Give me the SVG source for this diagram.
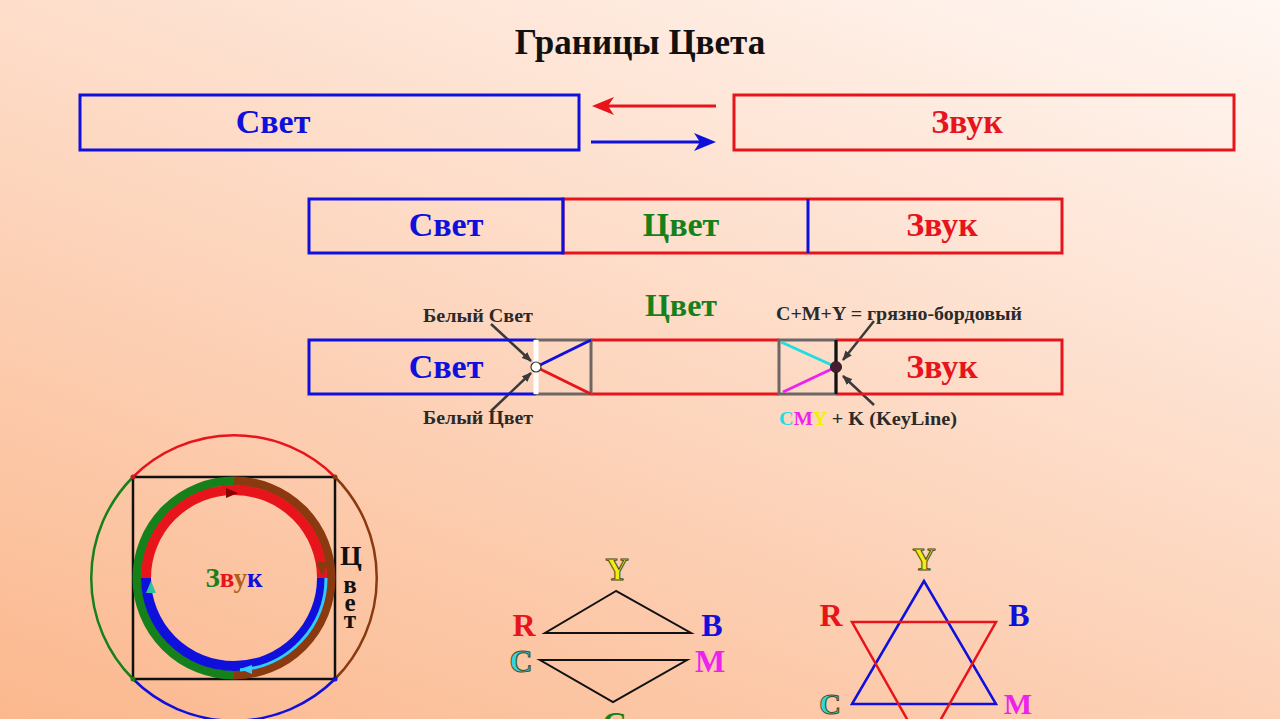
<svg xmlns="http://www.w3.org/2000/svg" width="1280" height="719" viewBox="0 0 1280 719">
<defs>
<linearGradient id="bg" gradientUnits="userSpaceOnUse" x1="1280" y1="0" x2="886" y2="1051">
<stop offset="0" stop-color="#fff7f3"/>
<stop offset="1" stop-color="#fbb88e"/>
</linearGradient>
<marker id="ar" markerWidth="10" markerHeight="8" refX="9" refY="4" orient="auto" markerUnits="userSpaceOnUse"><path d="M0,0 L10,4 L0,8 Z" fill="#3a3a3a"/></marker>
</defs>
<style>
text{font-family:"Liberation Serif","Times New Roman",serif;font-weight:bold;text-anchor:middle}
.big{font-size:34px}
.lbl{font-size:19px;fill:#2a2a2a}
.blue{fill:#1010dc}
.red{fill:#e8141c}
.green{fill:#16801a}
.bs{stroke:#1010dc}
.rs{stroke:#e8141c}
.box{fill:none;stroke-width:3}
.let{font-size:32px}
.out{stroke:#4a4a20;stroke-width:1}
.tri{fill:none;stroke:#111;stroke-width:2}
</style>
<rect width="1280" height="719" fill="url(#bg)"/>
<text x="640" y="54" style="font-size:35px" fill="#111">Границы Цвета</text>

<g id="row1-svet">
<rect x="80" y="95" width="499" height="55" class="box bs"/>
<text x="273" y="133" class="big blue">Свет</text>
</g>
<g id="row1-zvuk">
<rect x="734" y="95" width="500" height="55" class="box rs"/>
<text x="967" y="133" class="big red">Звук</text>
</g>
<g id="connectors">
<line x1="716" y1="106" x2="606" y2="106" stroke="#e8141c" stroke-width="3"/>
<path d="M592,106 L614,97 L608,106 L614,115 Z" fill="#e8141c"/>
<line x1="591" y1="142" x2="702" y2="142" stroke="#1010dc" stroke-width="3"/>
<path d="M716,142 L694,133 L700,142 L694,151 Z" fill="#1010dc"/>
<line x1="491" y1="324" x2="531" y2="361" stroke="#3a3a3a" stroke-width="2.5" marker-end="url(#ar)"/>
<line x1="491" y1="411" x2="531" y2="373" stroke="#3a3a3a" stroke-width="2.5" marker-end="url(#ar)"/>
<line x1="874" y1="321" x2="843" y2="360" stroke="#3a3a3a" stroke-width="2.5" marker-end="url(#ar)"/>
<line x1="874" y1="405" x2="843" y2="376" stroke="#3a3a3a" stroke-width="2.5" marker-end="url(#ar)"/>
</g>

<g id="row2">
<rect x="563" y="199" width="499" height="54" class="box rs"/>
<rect x="309" y="199" width="254" height="54" class="box bs"/>
<line x1="808" y1="199" x2="808" y2="253" stroke="#1010dc" stroke-width="3"/>
<text x="446" y="236" class="big blue">Свет</text>
<text x="681" y="236" class="big green">Цвет</text>
<text x="942" y="236" class="big red">Звук</text>
</g>

<g id="row3">
<text x="681" y="316" class="big green" style="font-size:32px">Цвет</text>
<path d="M536,340 H309 V394 H536" class="box bs"/>
<line x1="591" y1="340" x2="779" y2="340" stroke="#e8141c" stroke-width="3"/>
<line x1="591" y1="394" x2="779" y2="394" stroke="#e8141c" stroke-width="3"/>
<path d="M836,340 H1062 V394 H836" class="box rs"/>
<rect x="536" y="340" width="55" height="54" fill="none" stroke="#6e6666" stroke-width="3"/>
<rect x="779" y="340" width="57" height="54" fill="none" stroke="#6e6666" stroke-width="3"/>
<line x1="536" y1="340" x2="536" y2="394" stroke="#ffffff" stroke-width="5"/>
<line x1="536" y1="367" x2="591" y2="340" stroke="#1010dc" stroke-width="3"/>
<line x1="536" y1="367" x2="591" y2="394" stroke="#e8141c" stroke-width="3"/>
<circle cx="536" cy="367" r="5" fill="#ffffff" stroke="#333" stroke-width="1.2"/>
<line x1="781" y1="342" x2="836" y2="367" stroke="#22dde0" stroke-width="3"/>
<line x1="783" y1="392" x2="836" y2="367" stroke="#ee22ee" stroke-width="3"/>
<line x1="836" y1="340" x2="836" y2="394" stroke="#111" stroke-width="3"/>
<circle cx="836" cy="367" r="5.5" fill="#4a1c30" stroke="#222" stroke-width="1"/>
<text x="446" y="378" class="big blue">Свет</text>
<text x="942" y="378" class="big red">Звук</text>
<text x="478" y="322" class="lbl" textLength="110" lengthAdjust="spacingAndGlyphs">Белый Свет</text>
<text x="478" y="424" class="lbl" textLength="110" lengthAdjust="spacingAndGlyphs">Белый Цвет</text>
<text x="899" y="320" class="lbl" textLength="246" lengthAdjust="spacingAndGlyphs">C+M+Y = грязно-бордовый</text>
<text x="868" y="425" class="lbl" textLength="178" lengthAdjust="spacingAndGlyphs"><tspan fill="#22dde0">C</tspan><tspan fill="#ee22ee">M</tspan><tspan fill="#f0f000">Y</tspan> + K (KeyLine)</text>
</g>

<g id="circle-diagram">
<path d="M133,477 A143,143 0 0 1 335,477" fill="none" stroke="#e8141c" stroke-width="2.5"/>
<path d="M335,477 A143,143 0 0 1 335,679" fill="none" stroke="#8b3a10" stroke-width="2.5"/>
<path d="M335,679 A143,143 0 0 1 133,679" fill="none" stroke="#1010dc" stroke-width="2.5"/>
<path d="M133,679 A143,143 0 0 1 133,477" fill="none" stroke="#16801a" stroke-width="2.5"/>
<rect x="133" y="477" width="202" height="202" fill="none" stroke="#111" stroke-width="2.5"/>
<circle cx="133" cy="477" r="2.5" fill="#c02020"/>
<circle cx="335" cy="477" r="2.5" fill="#8b3a10"/>
<circle cx="335" cy="679" r="2.5" fill="#1010dc"/>
<circle cx="133" cy="679" r="2.5" fill="#16801a"/>
<path d="M234,481 A97,97 0 0 0 234,675" fill="none" stroke="#16801a" stroke-width="9"/>
<path d="M234,481 A97,97 0 0 1 234,675" fill="none" stroke="#8b3a10" stroke-width="9"/>
<path d="M146,578 A88,88 0 0 1 322,578" fill="none" stroke="#e8141c" stroke-width="10"/>
<path d="M146,578 A88,88 0 0 0 322,578" fill="none" stroke="#1010dc" stroke-width="10"/>
<path d="M326,578 A92,92 0 0 1 240,670" fill="none" stroke="#33ccff" stroke-width="3"/>
<path d="M226,488 L238,493 L226,498 Z" fill="#8b0000"/>
<path d="M316,562 L322,576 L328,562 Z" fill="#8b3a10"/>
<path d="M252,665 L240,669 L252,674 Z" fill="#33ccff"/>
<path d="M146,593 L151,581 L156,593 Z" fill="#33c0a0"/>
<text x="234" y="587" style="font-size:27px"><tspan fill="#16801a">З</tspan><tspan fill="#e8141c">в</tspan><tspan fill="#b0601a">у</tspan><tspan fill="#1010dc">к</tspan></text>
<text style="font-size:25px" fill="#111"><tspan x="351" y="565" style="font-size:28px">Ц</tspan><tspan x="350" y="593">в</tspan><tspan x="350" y="611">е</tspan><tspan x="350" y="628">т</tspan></text>
</g>

<g id="triangles">
<polygon points="616,591 545,633 691,633" class="tri"/>
<polygon points="540,660 687,660 613,702" class="tri"/>
<text x="617" y="580" class="let out" fill="#f2ee10">Y</text>
<text x="524" y="636" class="let red">R</text>
<text x="712" y="636" class="let blue">B</text>
<text x="521" y="672" class="let out" fill="#30d8d8">C</text>
<text x="710" y="672" class="let" fill="#ee22ee">M</text>
<text x="615" y="734" class="let green">G</text>
</g>

<g id="star">
<polygon points="924,581 852,704 996,704" fill="none" stroke="#1010dc" stroke-width="2.5"/>
<polygon points="852,622 996,622 924,749" fill="none" stroke="#e8141c" stroke-width="2.5"/>
<text x="924" y="570" class="let out" fill="#f2ee10">Y</text>
<text x="831" y="626" class="let red">R</text>
<text x="1019" y="626" class="let blue">B</text>
<text x="830" y="714" class="let out" fill="#30d8d8" style="font-size:30px">C</text>
<text x="1018" y="714" class="let" fill="#ee22ee" style="font-size:30px">M</text>
</g>
</svg>
